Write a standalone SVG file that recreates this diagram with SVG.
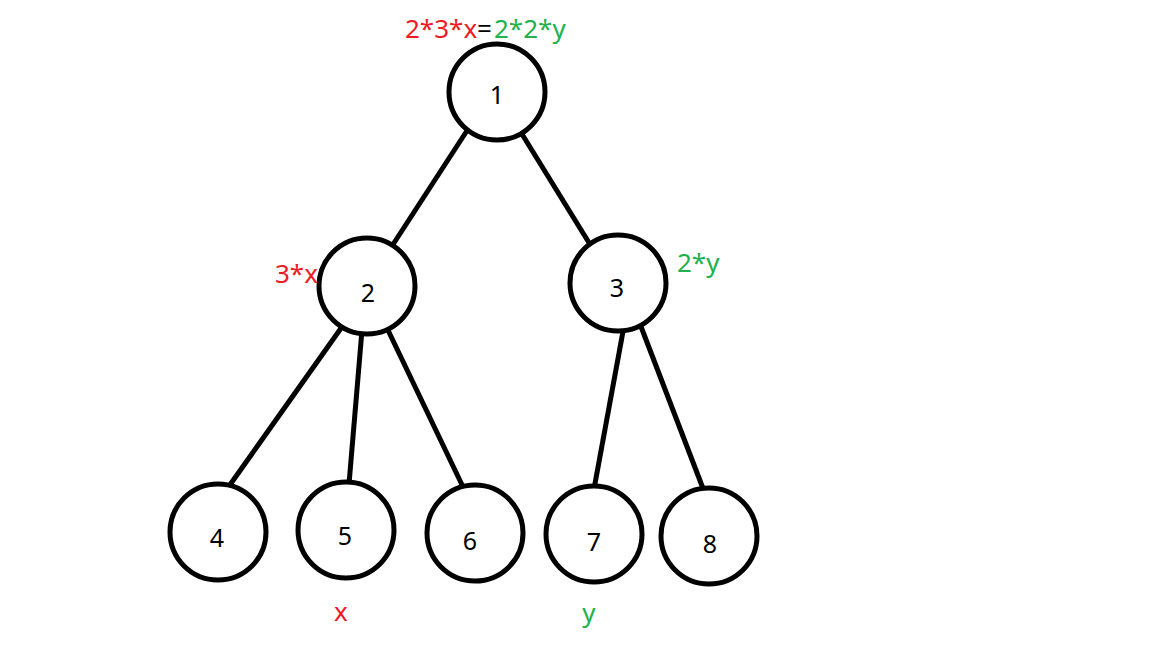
<svg xmlns="http://www.w3.org/2000/svg" width="1152" height="648" viewBox="0 0 1152 648">
<style>
.node circle{fill:#fff;stroke:#000;stroke-width:5}
.node text{font-family:"Noto Sans","Open Sans",sans-serif;font-size:25px;fill:#000;text-anchor:middle}
#edges line{stroke:#000;stroke-width:5;stroke-linecap:butt}
.lbl{font-family:"Noto Sans","Open Sans",sans-serif;font-size:26px}
.red{fill:#ED1C24}
.green{fill:#22B14C}
.blk{fill:#000}
</style>
<rect width="1152" height="648" fill="#fff"/>
<g id="edges">
<line x1="470" y1="126" x2="392" y2="246"/>
<line x1="517" y1="126" x2="591" y2="246"/>
<line x1="344" y1="324" x2="227" y2="489"/>
<line x1="362" y1="330" x2="349" y2="484"/>
<line x1="386" y1="326" x2="464" y2="489"/>
<line x1="624" y1="326" x2="594" y2="489"/>
<line x1="640" y1="324" x2="704" y2="491"/>
</g>
<g id="node1" class="node"><circle cx="497" cy="92" r="48"/><text x="497" y="104">1</text></g>
<g id="node2" class="node"><circle cx="367" cy="286" r="48"/><text x="368" y="302">2</text></g>
<g id="node3" class="node"><circle cx="618" cy="283" r="48"/><text x="617" y="297">3</text></g>
<g id="node4" class="node"><circle cx="218" cy="532" r="48"/><text x="217" y="547">4</text></g>
<g id="node5" class="node"><circle cx="346" cy="530" r="48"/><text x="345" y="545">5</text></g>
<g id="node6" class="node"><circle cx="475" cy="533" r="48"/><text x="470" y="550">6</text></g>
<g id="node7" class="node"><circle cx="594" cy="534" r="48"/><text x="594" y="551">7</text></g>
<g id="node8" class="node"><circle cx="709" cy="536" r="48"/><text x="710" y="553">8</text></g>
<text class="lbl" y="38"><tspan class="red" x="405">2*3*x</tspan><tspan class="blk" x="477">=</tspan><tspan class="green" x="494">2*2*y</tspan></text>
<text class="lbl red" x="275" y="283">3*x</text>
<text class="lbl green" x="677" y="272">2*y</text>
<text class="lbl red" x="341" y="621" text-anchor="middle">x</text>
<text class="lbl green" x="589" y="622" text-anchor="middle">y</text>
</svg>
